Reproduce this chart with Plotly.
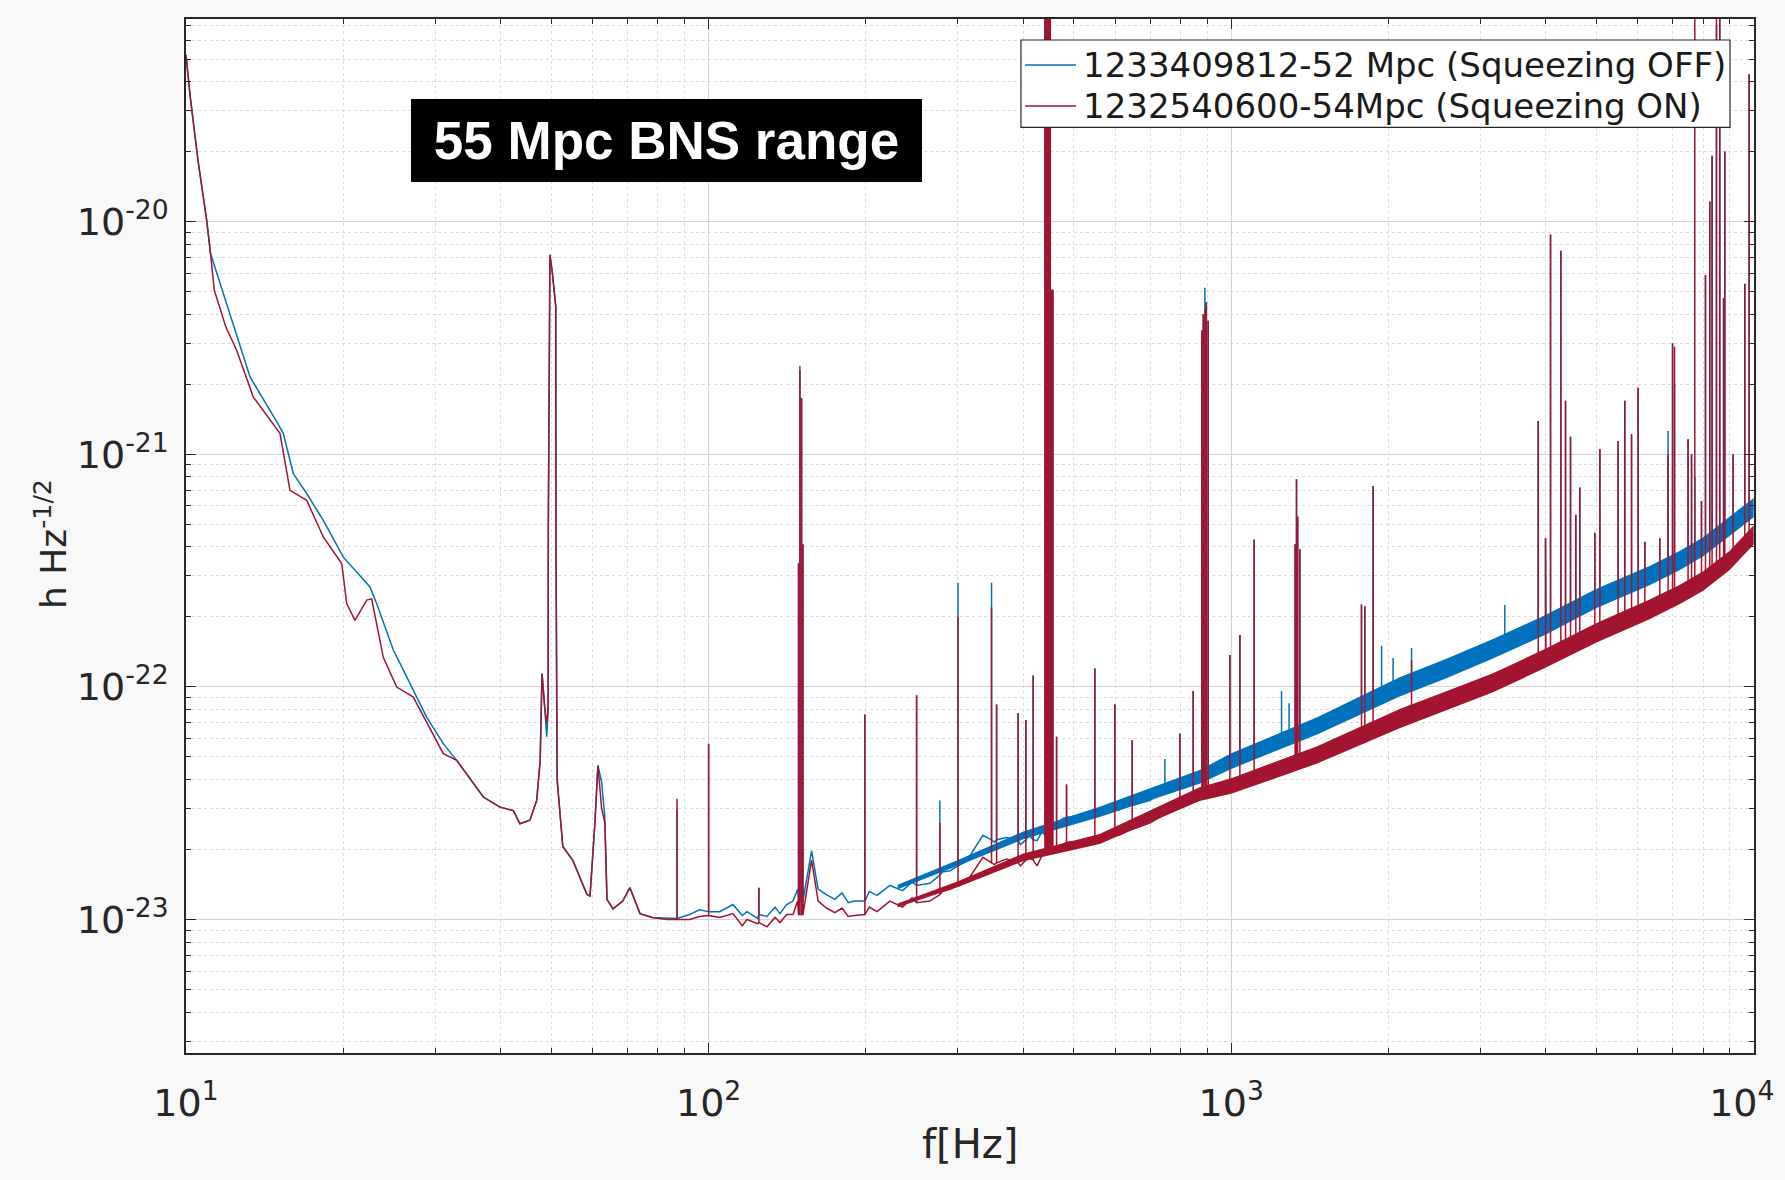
import plotly.graph_objects as go

BLUE = "#0072BD"
RED = "#A2142F"

# ---------------- data ----------------
# broadband curve, squeezing OFF (Hz, strain/rtHz)
off_f = [10.0, 10.18, 10.54, 10.95, 11.14, 12.12, 13.26, 14.91, 15.35, 16.04, 17.02, 18.31, 20.0, 22.49,
         23.16, 24.93, 26.83, 28.87, 31.07, 32.96, 37.06, 39.88, 42.29, 43.55, 45.5, 46.88, 47.6, 48.0,
         48.6, 49.0, 49.3, 49.35, 49.7, 50.2, 51.0, 51.05, 51.3, 52.6, 55.0, 58.5, 59.3, 60.6, 61.4, 62.4,
         63.3, 63.9, 65.6, 68.5, 70.7, 73.9, 78.0, 83.2, 92.0, 96.0, 105.0, 111.3, 116.0, 118.4, 124.0,
         129.3, 134.0, 136.9, 141.0, 145.0, 148.0, 157.4, 162.0, 168.0, 174.4, 180.0, 185.0, 190.0, 203.0,
         210.0, 222.3, 235.0, 245.0, 265.1, 280.0, 290.0, 311.6, 334.8, 352.0, 371.6, 395.0, 410.0, 425.0,
         435.0, 465.0, 476.8, 520.0, 560.5, 610.0, 650.0, 700.0, 750.0, 810.0, 871.0, 951.0, 1000.0, 1168.0,
         1456.0, 1700.0, 2101.0, 2582.0, 3162.0, 4000.0, 5000.0, 6300.0, 7217.0, 8000.0, 8992.0, 9990.0]
off_h = [5.2e-20, 3.5e-20, 1.84e-20, 1.02e-20, 7.3e-21, 4.04e-21, 2.15e-21, 1.38e-21, 1.23e-21, 8.26e-22,
         6.78e-22, 5.2e-22, 3.61e-22, 2.69e-22, 2.28e-22, 1.44e-22, 1.03e-22, 7.41e-23, 5.7e-23, 4.83e-23,
         3.36e-23, 3.04e-23, 2.94e-23, 2.58e-23, 2.67e-23, 3.25e-23, 4.8e-23, 1.14e-22, 8.0e-23, 6.1e-23,
         8.0e-23, 4.9e-22, 7.2e-21, 6.1e-21, 4.3e-21, 3.9e-22, 4.0e-23, 2.06e-23, 1.79e-23, 1.28e-23,
         1.26e-23, 2.61e-23, 4.59e-23, 3.9e-23, 2.75e-23, 1.22e-23, 1.11e-23, 1.2e-23, 1.37e-23, 1.06e-23,
         1.02e-23, 1.01e-23, 1.05e-23, 1.1e-23, 1.08e-23, 1.16e-23, 1.04e-23, 1.08e-23, 1.01e-23,
         1.03e-23, 1.13e-23, 1.06e-23, 1.16e-23, 1.2e-23, 1.35e-23, 1.97e-23, 1.35e-23, 1.28e-23, 1.22e-23,
         1.3e-23, 1.18e-23, 1.2e-23, 1.32e-23, 1.27e-23, 1.4e-23, 1.33e-23, 1.45e-23, 1.43e-23, 1.6e-23,
         1.62e-23, 1.78e-23, 2.3e-23, 2.15e-23, 2.25e-23, 2.1e-23, 2.3e-23, 2.18e-23, 2.4e-23, 2.6e-23,
         2.72e-23, 2.8e-23, 2.9e-23, 2.95e-23, 3.1e-23, 3.25e-23, 3.5e-23, 3.75e-23, 4.1e-23, 4.5e-23,
         4.8e-23, 5.5e-23, 6.8e-23, 8.0e-23, 1.0e-22, 1.2e-22, 1.45e-22, 1.85e-22, 2.4e-22, 3.0e-22,
         3.5e-22, 4.0e-22, 4.9e-22, 5.9e-22]

# broadband curve, squeezing ON
on_f = [10.0, 10.18, 10.54, 10.95, 11.14, 11.33, 11.92, 12.5, 13.45, 15.13, 15.81, 17.02, 18.31, 19.86, 20.3,
        21.05, 22.17, 22.66, 23.85, 25.3, 27.22, 29.72, 31.07, 32.96, 37.06, 39.88, 42.29, 43.55, 45.5,
        46.88, 47.6, 48.0, 48.6, 49.0, 49.3, 49.35, 49.7, 50.2, 51.0, 51.05, 51.3, 52.6, 55.0, 58.5, 59.3,
        60.6, 61.4, 62.4, 63.3, 63.9, 65.6, 68.5, 70.7, 73.9, 78.0, 83.2, 92.0, 96.0, 105.0, 111.3, 116.0,
        118.4, 124.0, 129.3, 134.0, 136.9, 141.0, 145.0, 148.0, 157.4, 162.0, 168.0, 174.4, 180.0, 185.0,
        190.0, 203.0, 210.0, 222.3, 235.0, 245.0, 265.1, 280.0, 290.0, 311.6, 334.8, 352.0, 371.6, 395.0,
        410.0, 425.0, 435.0, 465.0, 476.8, 520.0, 560.5, 610.0, 650.0, 700.0, 750.0, 810.0, 871.0, 951.0,
        1000.0, 1168.0, 1456.0, 1700.0, 2101.0, 2582.0, 3162.0, 4000.0, 5000.0, 6300.0, 7217.0, 8000.0,
        8992.0, 9990.0]
on_h = [5.2e-20, 3.5e-20, 1.84e-20, 1.02e-20, 7.3e-21, 5.07e-21, 3.52e-21, 2.8e-21, 1.76e-21, 1.23e-21,
        7.0e-22, 6.34e-22, 4.41e-22, 3.39e-22, 2.28e-22, 1.93e-22, 2.36e-22, 2.39e-22, 1.34e-22, 9.98e-23,
        9.04e-23, 6.29e-23, 5.16e-23, 4.83e-23, 3.36e-23, 3.04e-23, 2.94e-23, 2.58e-23, 2.67e-23, 3.25e-23,
        4.8e-23, 1.14e-22, 8.0e-23, 7.0e-23, 8.0e-23, 4.9e-22, 7.2e-21, 6.1e-21, 4.3e-21, 3.9e-22, 4.0e-23,
        2.06e-23, 1.79e-23, 1.28e-23, 1.26e-23, 2.61e-23, 4.59e-23, 3.0e-23, 2.6e-23, 1.22e-23, 1.11e-23,
        1.2e-23, 1.37e-23, 1.06e-23, 1.02e-23, 1.0e-23, 1.0e-23, 1.03e-23, 1.02e-23, 1.06e-23, 9.4e-24,
        1.0e-23, 9.6e-24, 9.3e-24, 1.02e-23, 9.7e-24, 1.05e-23, 1.05e-23, 1.2e-23, 1.8e-23, 1.2e-23,
        1.12e-23, 1.07e-23, 1.12e-23, 1.03e-23, 1.04e-23, 1.13e-23, 1.08e-23, 1.2e-23, 1.13e-23, 1.24e-23,
        1.2e-23, 1.32e-23, 1.35e-23, 1.45e-23, 1.85e-23, 1.72e-23, 1.82e-23, 1.7e-23, 1.85e-23, 1.7e-23,
        1.9e-23, 2.05e-23, 2.1e-23, 2.17e-23, 2.22e-23, 2.3e-23, 2.45e-23, 2.6e-23, 2.85e-23, 3.05e-23,
        3.4e-23, 3.6e-23, 3.75e-23, 4.3e-23, 5.1e-23, 5.9e-23, 7.3e-23, 8.7e-23, 1.04e-22, 1.33e-22,
        1.71e-22, 2.15e-22, 2.5e-22, 2.85e-22, 3.5e-22, 4.5e-22]

# spectral lines: frequency, base level and peak level for each series (None = not visible)
spike_f = [87.0, 100.0, 124.8, 148.6, 149.5, 150.6, 151.5, 199.0, 250.0, 277.0, 300.0, 347.8, 355.6, 391.0,
           404.6, 417.8, 440.0, 442.5, 445.0, 447.7, 450.5, 453.0, 455.7, 463.2, 484.0, 548.3, 598.8, 646.3,
           746.4, 797.4, 845.5, 878.7, 884.0, 890.3, 896.0, 903.3, 993.8, 1038.7, 1106.0, 1248.0, 1290.0,
           1325.0, 1333.0, 1340.0, 1353.0, 1775.0, 1801.0, 1868.0, 1939.0, 2040.0, 2213.0, 3337.0, 3866.0,
           3993.0, 4082.0, 4272.0, 4361.0, 4458.0, 4563.0, 4644.0, 4962.0, 5073.0, 5498.0, 5662.0, 5833.0,
           6004.0, 6185.0, 6607.0, 6852.0, 6988.0, 7050.0, 7483.0, 7598.0, 7708.0, 7938.0, 8079.0, 8233.0,
           8318.0, 8480.0, 8604.0, 8750.0, 8797.0, 9125.0, 9607.0, 9790.0]
spike_off_base = [1.01e-23, 1.08e-23, 1.05e-23, 1.2e-23, 1.2e-23, 1.2e-23, 1.2e-23, 1.2e-23, 1.4e-23,
                  1.55e-23, 1.7e-23, 2.2e-23, 2.2e-23, 2.2e-23, 2.2e-23, 2.2e-23, 2.3e-23, 2.35e-23, 2.4e-23,
                  2.45e-23, 2.5e-23, 2.5e-23, 2.55e-23, 2.6e-23, 2.75e-23, 2.9e-23, 3.05e-23, 3.2e-23, 3.6e-23,
                  3.85e-23, 4.0e-23, 4.1e-23, 4.15e-23, 4.2e-23, 4.25e-23, 4.3e-23, 4.8e-23, 4.95e-23, 5.2e-23,
                  5.9e-23, 6.1e-23, 6.25e-23, 6.3e-23, 6.33e-23, 6.4e-23, 8.4e-23, 8.5e-23, 8.9e-23, 9.2e-23,
                  9.7e-23, 1.05e-22, 1.53e-22, 1.78e-22, 1.85e-22, 1.9e-22, 2.0e-22, 2.05e-22, 2.1e-22,
                  2.16e-22, 2.2e-22, 2.38e-22, 2.43e-22, 2.62e-22, 2.7e-22, 2.78e-22, 2.85e-22, 2.95e-22,
                  3.18e-22, 3.3e-22, 3.38e-22, 3.42e-22, 3.65e-22, 3.72e-22, 3.8e-22, 3.95e-22, 4.07e-22,
                  4.2e-22, 4.28e-22, 4.42e-22, 4.53e-22, 4.67e-22, 4.7e-22, 5.0e-22, 5.5e-22, 5.7e-22]
spike_off_top = [3.0e-23, 5.7e-23, 1.37e-23, 3.4e-22, 2.4e-21, 1.74e-21, 4.1e-22, 7.6e-23, 9.2e-23, 3.25e-23,
                 2.8e-22, 2.8e-22, 8.4e-23, 7.7e-23, 7.2e-23, 1.12e-22, 1e-19, 1e-19, 1e-19, 1e-19, 1e-19,
                 5.1e-21, 5.1e-21, 6.1e-23, 3.8e-23, 1.2e-22, 8.4e-23, 5.9e-23, 4.9e-23, 6.3e-23, 9.6e-23,
                 3.4e-21, 4.0e-21, 5.2e-21, 4.5e-21, 3.75e-21, 1.37e-22, 1.67e-22, 4.3e-22, 9.6e-23, 8.5e-23,
                 4.1e-22, 7.8e-22, 5.4e-22, 3.9e-22, 2.26e-22, 2.22e-22, 7.3e-22, 1.5e-22, 1.33e-22, 1.47e-22,
                 2.25e-22, 1.39e-21, 4.35e-22, 8.8e-21, 7.5e-21, 1.7e-21, 1.19e-21, 5.5e-22, 7.2e-22, 4.6e-22,
                 1.05e-21, 1.14e-21, 1.7e-21, 1.22e-21, 1.93e-21, 4.2e-22, 4.35e-22, 1.26e-21, 3.0e-21,
                 2.0e-21, 1.16e-21, 1.0e-21, 8.0e-22, 6.3e-22, 5.9e-21, 1.22e-20, 1.92e-20, 7e-20, 1e-19,
                 4.7e-21, 2.0e-20, 1.0e-21, 5.4e-21, 4.3e-20]
spike_on_base = [1.0e-23, 1.04e-23, 9.7e-24, 1.05e-23, 1.05e-23, 1.05e-23, 1.05e-23, 1.05e-23, 1.18e-23,
                 1.28e-23, 1.4e-23, 1.75e-23, 1.75e-23, 1.75e-23, 1.8e-23, 1.8e-23, 1.9e-23, 1.92e-23, 1.95e-23,
                 2.0e-23, 2.0e-23, 2.02e-23, 2.03e-23, 2.05e-23, 2.15e-23, 2.2e-23, 2.3e-23, 2.45e-23, 2.85e-23,
                 3.05e-23, 3.3e-23, 3.4e-23, 3.42e-23, 3.45e-23, 3.48e-23, 3.5e-23, 3.75e-23, 3.9e-23, 4.1e-23,
                 4.6e-23, 4.75e-23, 4.87e-23, 4.9e-23, 4.92e-23, 4.97e-23, 6.15e-23, 6.25e-23, 6.45e-23, 6.7e-23,
                 7.1e-23, 7.6e-23, 1.09e-22, 1.29e-22, 1.33e-22, 1.36e-22, 1.43e-22, 1.47e-22, 1.51e-22,
                 1.55e-22, 1.58e-22, 1.7e-22, 1.74e-22, 1.89e-22, 1.94e-22, 2.0e-22, 2.05e-22, 2.11e-22,
                 2.26e-22, 2.36e-22, 2.41e-22, 2.44e-22, 2.62e-22, 2.67e-22, 2.72e-22, 2.82e-22, 2.92e-22,
                 3.03e-22, 3.1e-22, 3.22e-22, 3.32e-22, 3.45e-22, 3.5e-22, 3.8e-22, 4.2e-22, 4.35e-22]
spike_on_top = [3.3e-23, 5.7e-23, 1.37e-23, 3.4e-22, 2.3e-21, 1.74e-21, 4.1e-22, 7.6e-23, 9.2e-23, 2.6e-23,
                2.0e-22, 2.2e-22, 8.4e-23, 7.7e-23, 7.2e-23, 1.12e-22, 1e-19, 1e-19, 1e-19, 1e-19, 1e-19,
                5.1e-21, 5.1e-21, 6.1e-23, 3.8e-23, 1.2e-22, 8.4e-23, 5.9e-23, None, 6.3e-23, 9.6e-23,
                3.4e-21, 4.0e-21, 4.2e-21, 4.5e-21, 3.75e-21, 1.37e-22, 1.67e-22, 4.3e-22, None, None,
                4.1e-22, 7.8e-22, 5.4e-22, 3.9e-22, 2.26e-22, 2.22e-22, 7.3e-22, None, None, 1.3e-22,
                None, 1.39e-21, 4.35e-22, 8.8e-21, 7.5e-21, 1.7e-21, 1.19e-21, 5.5e-22, 7.2e-22, 4.6e-22,
                1.05e-21, 1.14e-21, 1.7e-21, 1.22e-21, 1.93e-21, 4.2e-22, 4.35e-22, 1.0e-21, 3.0e-21,
                2.9e-21, 1.16e-21, 1.0e-21, 1e-19, 6.3e-22, 5.9e-21, 1.22e-20, 1.92e-20, 1e-19, 1e-19,
                4.7e-21, 2.0e-20, 1.0e-21, 5.4e-21, 4.3e-20]

# thickness of the noisy band (lower / upper envelope)
band_f = [230.0, 300.0, 400.0, 560.0, 870.0, 1000.0, 1460.0, 2100.0, 2580.0, 3160.0, 4000.0, 5000.0,
          6300.0, 7220.0, 8000.0, 8990.0, 9990.0]
off_band_lo = [1.35e-23, 1.70e-23, 2.21e-23, 2.76e-23, 3.83e-23, 4.44e-23, 6.24e-23, 9.09e-23, 1.09e-22,
               1.32e-22, 1.68e-22, 2.18e-22, 2.73e-22, 3.18e-22, 3.64e-22, 4.45e-22, 5.36e-22]
off_band_hi = [1.41e-23, 1.80e-23, 2.39e-23, 3.05e-23, 4.39e-23, 5.18e-23, 7.41e-23, 1.1e-22, 1.32e-22,
               1.6e-22, 2.04e-22, 2.64e-22, 3.3e-22, 3.85e-22, 4.4e-22, 5.39e-22, 6.49e-22]
on_band_lo = [1.13e-23, 1.38e-23, 1.78e-23, 2.11e-23, 3.23e-23, 3.47e-23, 4.68e-23, 6.64e-23, 7.91e-23,
              9.45e-23, 1.21e-22, 1.55e-22, 1.95e-22, 2.27e-22, 2.59e-22, 3.18e-22, 4.09e-22]
on_band_hi = [1.17e-23, 1.46e-23, 1.92e-23, 2.33e-23, 3.7e-23, 4.05e-23, 5.56e-23, 8.03e-23, 9.57e-23,
              1.14e-22, 1.46e-22, 1.88e-22, 2.37e-22, 2.75e-22, 3.14e-22, 3.85e-22, 4.95e-22]

x_tick_vals = [10, 100, 1000, 10000]
x_tick_text = ["10<sup>1</sup>", "10<sup>2</sup>", "10<sup>3</sup>", "10<sup>4</sup>&nbsp;&nbsp;"]
y_tick_vals = [1e-23, 1e-22, 1e-21, 1e-20]
y_tick_text = ["10<sup>-23</sup>", "10<sup>-22</sup>", "10<sup>-21</sup>", "10<sup>-20</sup>"]

legend_names = ["1233409812-52 Mpc (Squeezing OFF)", "1232540600-54Mpc (Squeezing ON)"]
box_text = "55 Mpc BNS range"


# ---------------- assembly ----------------
def merge(base_f, base_h, sf, sb, st):
    pts = [(f, 0, i, h) for i, (f, h) in enumerate(zip(base_f, base_h))]
    for j, (f, b, t) in enumerate(zip(sf, sb, st)):
        if t is None:
            continue
        pts += [(f, 1, 3 * j, b), (f, 1, 3 * j + 1, t), (f, 1, 3 * j + 2, b)]
    pts.sort(key=lambda p: (p[0], p[1], p[2]))
    return [p[0] for p in pts], [p[3] for p in pts]


off_x, off_y = merge(off_f, off_h, spike_f, spike_off_base, spike_off_top)
on_x, on_y = merge(on_f, on_h, spike_f, spike_on_base, spike_on_top)

fig = go.Figure()
fig.add_trace(go.Scatter(x=band_f + band_f[::-1], y=off_band_hi + off_band_lo[::-1], fill="toself",
                         fillcolor=BLUE, line=dict(width=0), mode="lines", showlegend=False,
                         hoverinfo="skip"))
fig.add_trace(go.Scatter(x=off_x, y=off_y, mode="lines", name=legend_names[0], showlegend=False,
                         line=dict(color=BLUE, width=1.5)))
fig.add_trace(go.Scatter(x=band_f + band_f[::-1], y=on_band_hi + on_band_lo[::-1], fill="toself",
                         fillcolor=RED, line=dict(width=0), mode="lines", showlegend=False,
                         hoverinfo="skip"))
fig.add_trace(go.Scatter(x=on_x, y=on_y, mode="lines", name=legend_names[1], showlegend=False,
                         line=dict(color=RED, width=1.5)))

AX = "#262626"
FONT = "DejaVu Sans"
x_minor = [m * 10 ** k for k in range(1, 4) for m in range(2, 10)]
y_minor = [m * 10.0 ** k for k in range(-24, -19) for m in range(2, 10)]

common = dict(type="log", showline=True, linecolor=AX, linewidth=1.5, mirror="allticks",
              ticks="inside", ticklen=10, tickwidth=1.2, tickcolor=AX,
              showgrid=True, gridcolor="#d4d4d4", gridwidth=1, zeroline=False,
              tickfont=dict(family=FONT, size=38, color=AX), tickmode="array",
              ticklabeloverflow="allow", automargin=False)

fig.update_xaxes(range=[1, 4.0002], tickvals=x_tick_vals, ticktext=x_tick_text, ticklabelstandoff=16,
                 minor=dict(tickmode="array", tickvals=x_minor, ticks="inside", ticklen=5, tickcolor=AX,
                            showgrid=True, gridcolor="#dcdcdc", griddash="dot", gridwidth=1),
                 **common)
fig.update_yaxes(range=[-23.574, -19.129], tickvals=y_tick_vals, ticktext=y_tick_text, ticklabelstandoff=8,
                 minor=dict(tickmode="array", tickvals=y_minor, ticks="inside", ticklen=5, tickcolor=AX,
                            showgrid=True, gridcolor="#dcdcdc", griddash="dot", gridwidth=1),
                 **common)

# legend box drawn in paper coordinates (MATLAB-style legend)
LX0, LX1, LY0, LY1 = 0.5325, 0.9847, 0.8951, 0.9797
ROW_Y = [0.9555, 0.9159]
SAMPLE_X0, SAMPLE_X1, TEXT_X = 0.5351, 0.5676, 0.5705
shapes = [dict(type="rect", xref="paper", yref="paper", x0=LX0, x1=LX1, y0=LY0, y1=LY1,
               fillcolor="#ffffff", line=dict(color=AX, width=1.2), layer="above")]
for ry, col in zip(ROW_Y, [BLUE, RED]):
    shapes.append(dict(type="line", xref="paper", yref="paper", x0=SAMPLE_X0, x1=SAMPLE_X1, y0=ry, y1=ry,
                       line=dict(color=col, width=1.5), layer="above"))

annotations = [
    dict(text="<b>" + box_text + "</b>", xref="paper", yref="paper", x=0.3064, y=0.8825,
         xanchor="center", yanchor="middle", showarrow=False, bgcolor="#000000",
         width=511, height=83, borderpad=0, borderwidth=0, align="center", valign="middle",
         font=dict(family="Liberation Sans, Arial", size=53, color="#ffffff")),
    dict(text="f[Hz]", xref="paper", yref="paper", x=0.5, y=0, xanchor="center", yanchor="middle",
         yshift=-91, showarrow=False, font=dict(family=FONT, size=40, color=AX)),
    dict(text="h Hz<sup>-1/2</sup>", xref="paper", yref="paper", x=0, y=0.4923, xanchor="center",
         yanchor="middle", xshift=-135, textangle=-90, showarrow=False,
         font=dict(family=FONT, size=36, color=AX)),
]
for ry, name in zip(ROW_Y, legend_names):
    annotations.append(dict(text=name, xref="paper", yref="paper", x=TEXT_X, y=ry, xanchor="left",
                            yanchor="middle", showarrow=False,
                            font=dict(family=FONT, size=34, color="#1a1a1a")))

fig.update_layout(
    width=1785, height=1180, autosize=False,
    margin=dict(l=186, r=31, t=19, b=127, autoexpand=False),
    paper_bgcolor="#f8f8f8", plot_bgcolor="#ffffff",
    font=dict(family=FONT, color=AX),
    hovermode=False, showlegend=False,
    shapes=shapes, annotations=annotations,
)

fig.write_html("out.html")
